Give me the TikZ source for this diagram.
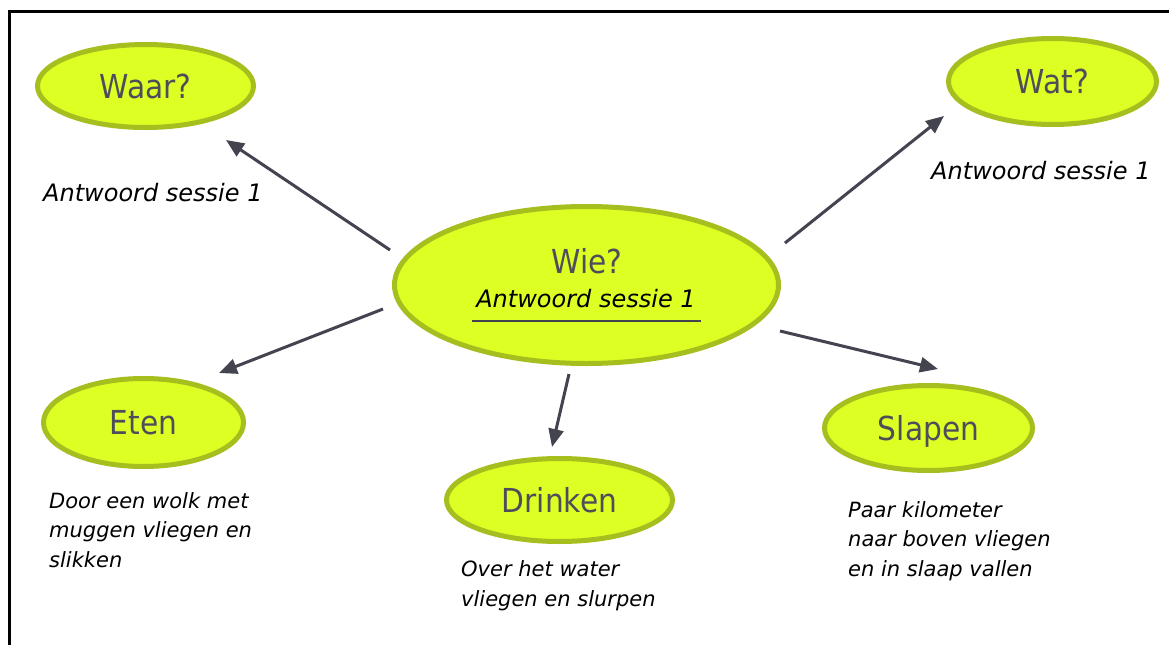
\documentclass[tikz,border=0pt]{standalone}
\usepackage{fontspec}
\setmainfont{DejaVu Sans}
\newfontfamily\lblfont[FakeStretch=0.9]{DejaVu Sans}
\usetikzlibrary{shapes.geometric,arrows.meta}
\definecolor{bubblefill}{RGB}{222,255,36}
\definecolor{bubbleline}{RGB}{166,190,30}
\definecolor{arrowcol}{RGB}{68,68,80}
\definecolor{lbltext}{RGB}{78,78,90}
\begin{document}
\begin{tikzpicture}[x=1pt,y=-1pt,
  bubble/.style={ellipse, draw=bubbleline, fill=bubblefill, line width=5pt, inner sep=0pt,
    text=lbltext, font=\lblfont\fontsize{33}{38}\selectfont, text height=24pt, text depth=0pt},
  note/.style={inner sep=0pt, anchor=base west, font=\itshape\fontsize{21}{29.5}\selectfont, align=left},
  ans/.style={inner sep=0pt, anchor=base west, font=\itshape\fontsize{24}{30}\selectfont},
  link/.style={draw=arrowcol, line width=3pt, -{Triangle[length=18pt,width=15pt]}}]
\useasboundingbox (0,0) rectangle (1169,645);
\fill[white] (0,0) rectangle (1169,645);
\draw[line width=2.2pt] (9.5,645) -- (9.5,11.5) -- (1169,11.5);

% bubbles
\node[bubble, minimum width=216pt, minimum height=83pt] (waar) at (145.5,86) {Waar?};
\node[bubble, minimum width=208pt, minimum height=86pt] (wat) at (1052.5,81.5) {Wat?};
\node[bubble, minimum width=384pt, minimum height=157pt] (wie) at (586.5,285) {};
\node[bubble, minimum width=200pt, minimum height=88pt] (eten) at (143.5,422.5) {Eten};
\node[bubble, minimum width=226pt, minimum height=83pt] (drinken) at (559.5,500) {Drinken};
\node[bubble, minimum width=208pt, minimum height=85pt] (slapen) at (928.5,428) {Slapen};

% text inside Wie
\node[inner sep=0pt, anchor=base, text=lbltext, font=\lblfont\fontsize{33}{38}\selectfont] (wietitle) at (587,273) {Wie?};
\node[inner sep=0pt, anchor=base, font=\itshape\fontsize{24}{30}\selectfont] (wieans) at (586,307) {Antwoord sessie 1};
\draw[arrowcol, line width=1.3pt] ([xshift=-4pt,yshift=-14pt]wieans.base west) -- ([xshift=5pt,yshift=-14pt]wieans.base east);

% answer texts
\node[ans] (waarans) at (43,201) {Antwoord sessie 1};
\node[ans] (watans) at (931,179) {Antwoord sessie 1};
\node[note] (etenans) at (49,567) {Door een wolk met\\muggen vliegen en\\slikken};
\node[note] (drinkenans) at (461,606) {Over het water\\vliegen en slurpen};
\node[note] (slapenans) at (848,576) {Paar kilometer\\naar boven vliegen\\en in slaap vallen};

% arrow ends
\coordinate (s1) at (390,250); \coordinate (e1) at (226,140);
\coordinate (s2) at (785,243); \coordinate (e2) at (944,116);
\coordinate (s3) at (383,309); \coordinate (e3) at (219,373);
\coordinate (s4) at (569,374); \coordinate (e4) at (552,447);
\coordinate (s5) at (780,331); \coordinate (e5) at (938,369);
\draw[link] (s1) -- (e1);
\draw[link] (s2) -- (e2);
\draw[link] (s3) -- (e3);
\draw[link] (s4) -- (e4);
\draw[link] (s5) -- (e5);
\end{tikzpicture}
\end{document}
